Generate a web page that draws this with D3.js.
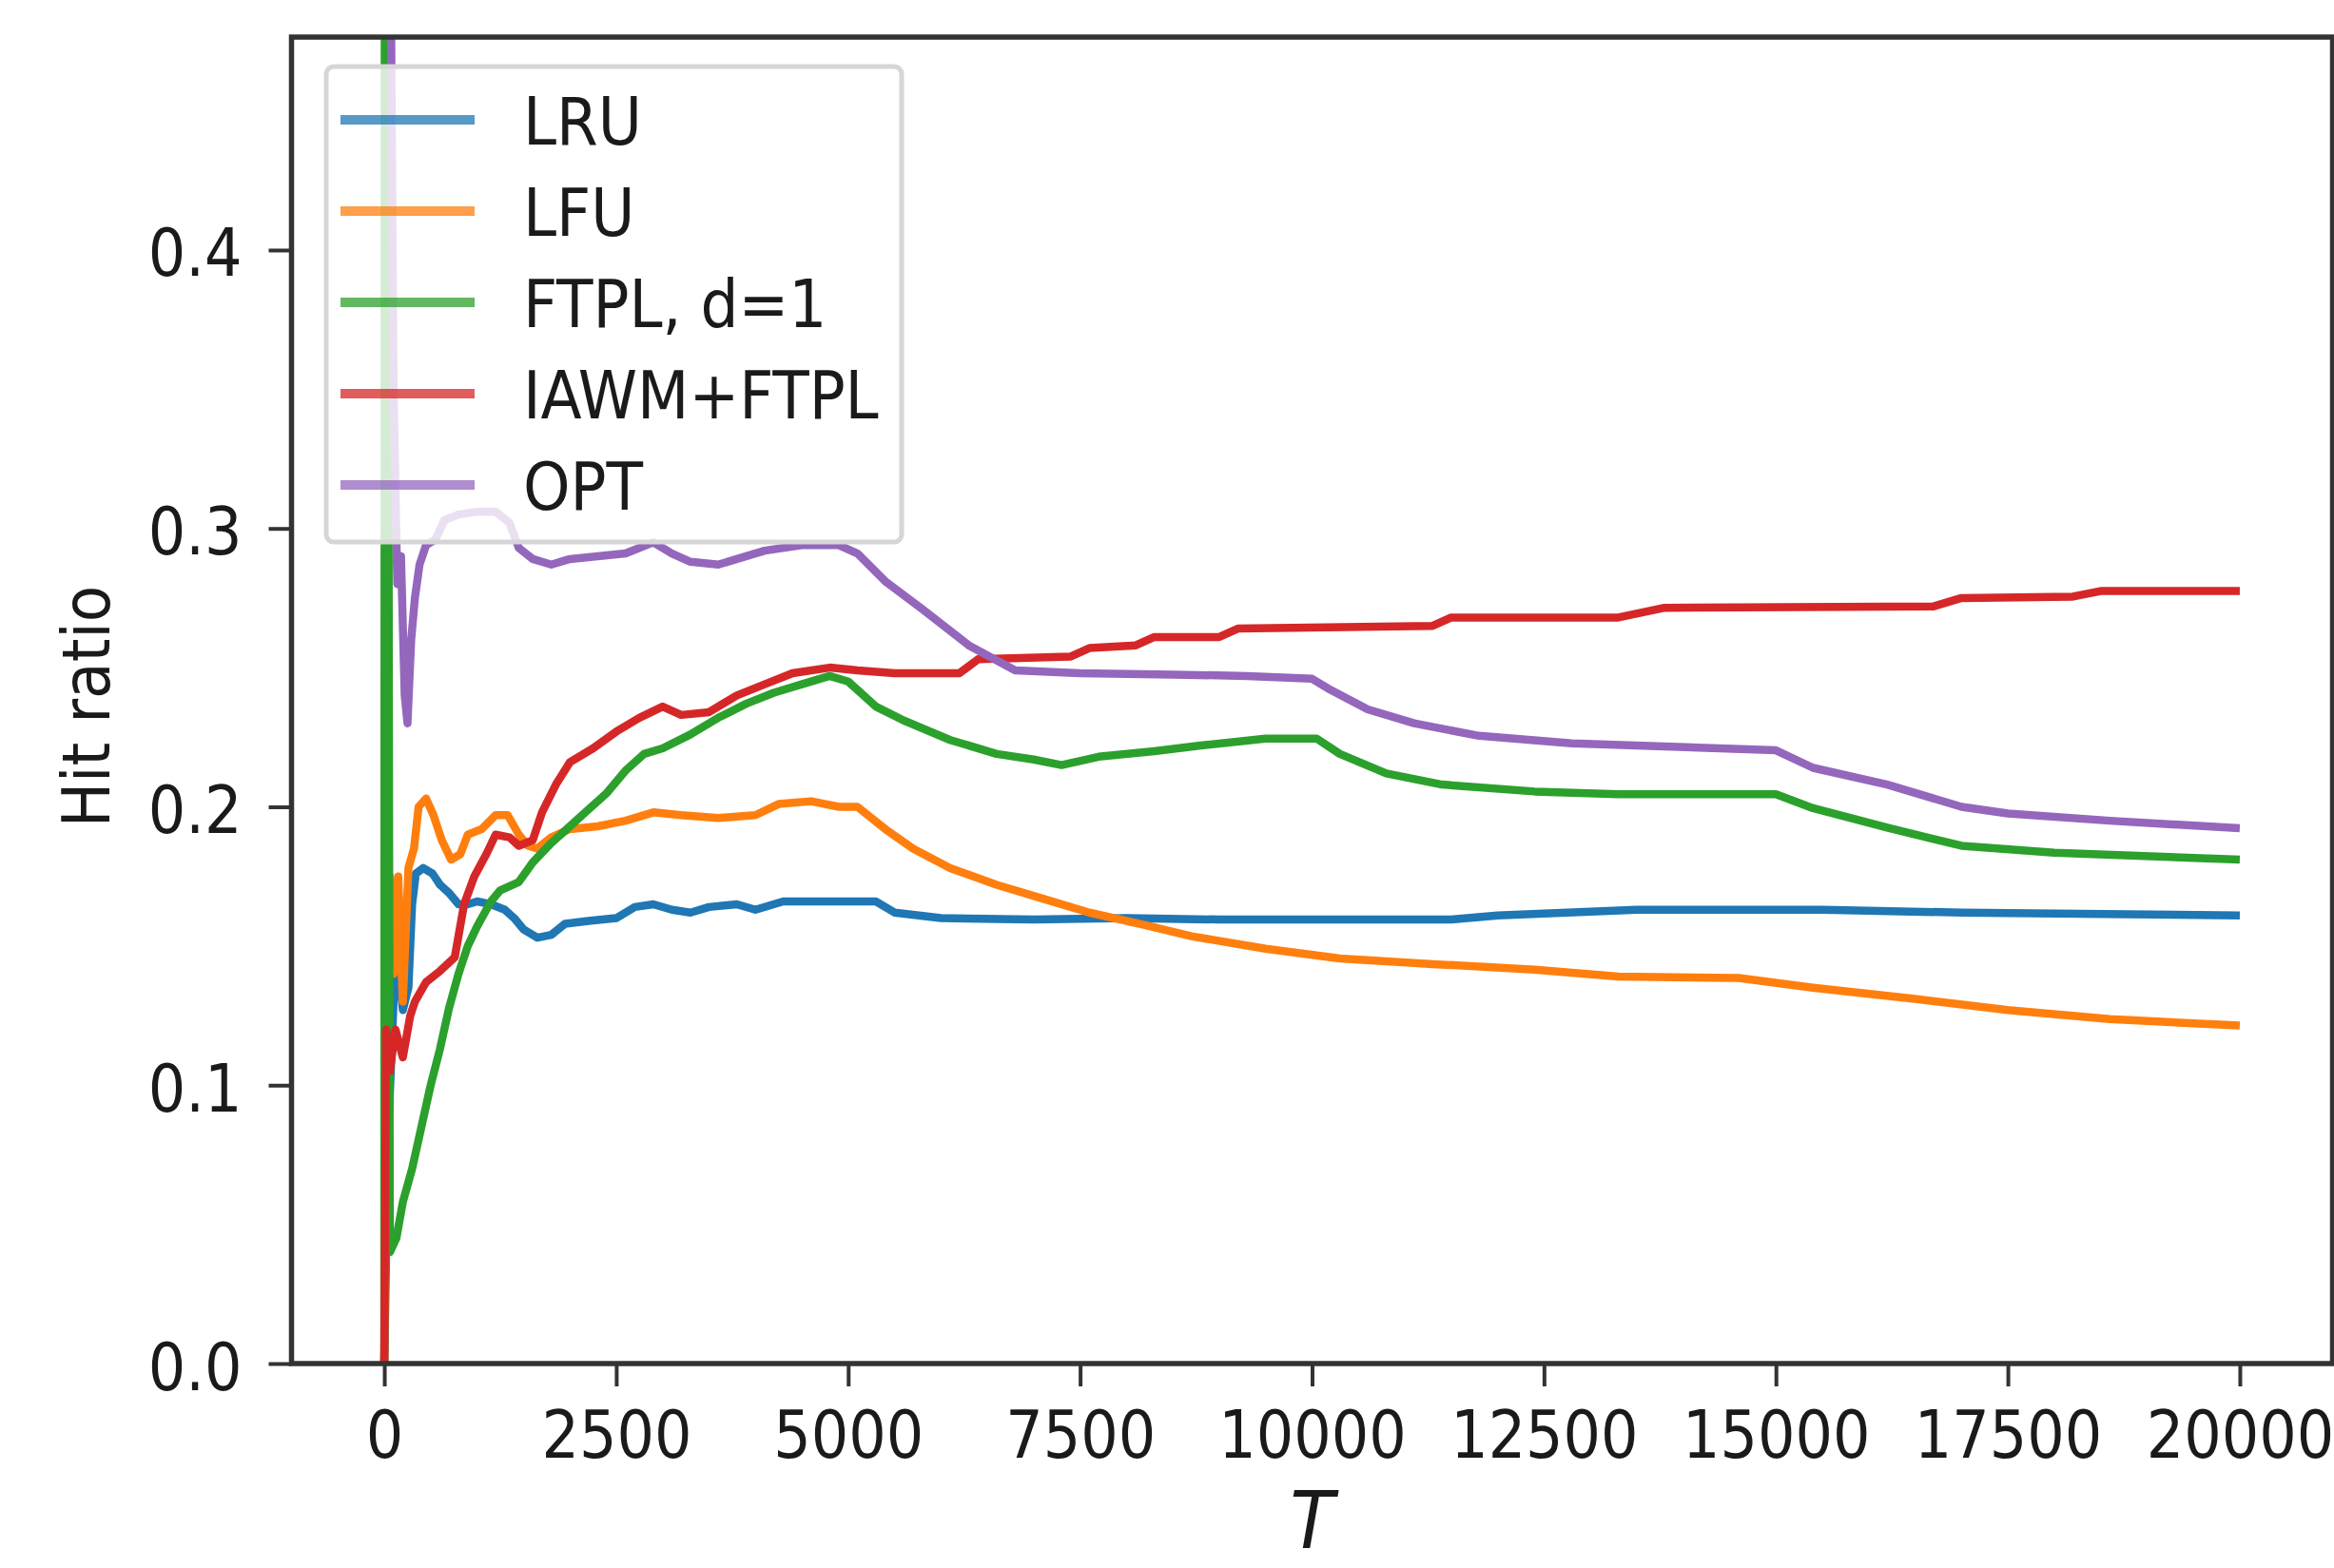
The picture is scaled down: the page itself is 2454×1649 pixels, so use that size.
<!DOCTYPE html>
<html>
<head>
<meta charset="utf-8">
<script src="https://cdn.jsdelivr.net/npm/d3@7"></script>
<style>
  html, body { margin: 0; padding: 0; background: #fff; }
  svg { display: block; }
  text { font-family: "DejaVu Sans Condensed", "DejaVu Sans", sans-serif; font-stretch: condensed; fill: #1a1a1a; }
</style>
</head>
<body>
<svg id="chart"></svg>
<script>
// tick labels
const xTicks = [0, 2500, 5000, 7500, 10000, 12500, 15000, 17500, 20000];
const yTicks = [0, 0.1, 0.2, 0.3, 0.4];

// series names and colours (matplotlib tab10)
const seriesNames = ["LRU", "LFU", "FTPL, d=1", "IAWM+FTPL", "OPT"];
const seriesColors = ["#1f77b4", "#ff7f0e", "#2ca02c", "#d62728", "#9467bd"];

// hit ratio vs T: [T, hit ratio]
const lru = [
  [0, 0], [40, 0.08], [100, 0.13], [150, 0.145], [200, 0.127], [260, 0.135], [300, 0.165],
  [340, 0.176], [420, 0.178], [520, 0.176], [600, 0.172], [700, 0.169], [800, 0.165],
  [900, 0.165], [1000, 0.166], [1150, 0.165], [1300, 0.163], [1400, 0.16], [1500, 0.156],
  [1650, 0.153], [1800, 0.154], [1950, 0.158], [2200, 0.159], [2500, 0.16], [2700, 0.164],
  [2900, 0.165], [3100, 0.163], [3300, 0.162], [3500, 0.164], [3800, 0.165], [4000, 0.163],
  [4300, 0.166], [4700, 0.166], [5000, 0.166], [5300, 0.166], [5500, 0.162], [6000, 0.16],
  [7000, 0.1595], [8000, 0.16], [9000, 0.1595], [10000, 0.1595], [11500, 0.1595],
  [12000, 0.161], [13500, 0.163], [15500, 0.163], [17000, 0.162], [20000, 0.161]
];
const lfu = [
  [0, 0], [30, 0.12], [60, 0.175], [100, 0.14], [150, 0.175], [200, 0.13], [260, 0.178],
  [320, 0.185], [370, 0.2], [450, 0.203], [530, 0.197], [620, 0.188], [720, 0.181],
  [820, 0.183], [900, 0.19], [1050, 0.192], [1200, 0.197], [1330, 0.197], [1450, 0.19],
  [1550, 0.186], [1650, 0.185], [1800, 0.189], [2000, 0.192], [2300, 0.193], [2600, 0.195],
  [2900, 0.198], [3200, 0.197], [3600, 0.196], [4000, 0.197], [4250, 0.201], [4600, 0.202],
  [4900, 0.2], [5100, 0.2], [5400, 0.192], [5700, 0.185], [6100, 0.178], [6600, 0.172],
  [7100, 0.167], [7600, 0.162], [8200, 0.1575], [8700, 0.1535], [9500, 0.149],
  [10300, 0.1455], [11300, 0.1435], [12400, 0.1415], [13300, 0.139], [14600, 0.1385],
  [15400, 0.135], [16500, 0.131], [17500, 0.127], [18600, 0.1237], [20000, 0.1214]
];
const ftpl = [
  [0, 0], [10, 1.0], [60, 0.04], [130, 0.045], [200, 0.058], [300, 0.07], [400, 0.085],
  [500, 0.1], [600, 0.113], [700, 0.128], [800, 0.14], [900, 0.15], [1000, 0.157],
  [1150, 0.166], [1250, 0.17], [1450, 0.173], [1600, 0.18], [1800, 0.187], [2000, 0.193],
  [2200, 0.199], [2400, 0.205], [2600, 0.213], [2800, 0.219], [3000, 0.221], [3300, 0.226],
  [3600, 0.232], [3900, 0.237], [4200, 0.241], [4500, 0.244], [4800, 0.247], [5000, 0.245],
  [5300, 0.236], [5600, 0.231], [6100, 0.224], [6600, 0.219], [7000, 0.217], [7300, 0.215],
  [7700, 0.218], [8300, 0.22], [8800, 0.222], [9500, 0.2245], [10050, 0.2245],
  [10300, 0.219], [10800, 0.212], [11400, 0.208], [12400, 0.2055], [13300, 0.2045],
  [15000, 0.2045], [15400, 0.1995], [16200, 0.1925], [17000, 0.186], [18000, 0.1835],
  [20000, 0.181]
];
const iawm = [
  [0, 0], [20, 0.12], [60, 0.105], [120, 0.12], [200, 0.11], [280, 0.125], [330, 0.13],
  [450, 0.137], [600, 0.141], [760, 0.146], [860, 0.165], [970, 0.175], [1100, 0.183],
  [1200, 0.19], [1350, 0.189], [1450, 0.186], [1600, 0.188], [1700, 0.198], [1850, 0.208],
  [2000, 0.216], [2250, 0.221], [2500, 0.227], [2750, 0.232], [3000, 0.236], [3200, 0.233],
  [3500, 0.234], [3800, 0.24], [4100, 0.244], [4400, 0.248], [4800, 0.25], [5100, 0.249],
  [5500, 0.248], [6200, 0.248], [6400, 0.253], [7400, 0.254], [7600, 0.257], [8100, 0.258],
  [8300, 0.261], [9000, 0.261], [9200, 0.264], [11300, 0.265], [11500, 0.268],
  [13300, 0.268], [13800, 0.2715], [16700, 0.272], [17000, 0.275], [18200, 0.2755],
  [18500, 0.2775], [20000, 0.2775]
];
const opt = [
  [0, 1.0], [50, 0.6], [100, 0.35], [140, 0.28], [180, 0.29], [220, 0.24], [250, 0.23],
  [290, 0.26], [330, 0.275], [380, 0.287], [450, 0.294], [550, 0.296], [650, 0.303],
  [800, 0.305], [1000, 0.306], [1200, 0.306], [1350, 0.302], [1450, 0.293], [1600, 0.289],
  [1800, 0.287], [2000, 0.289], [2300, 0.29], [2600, 0.291], [2900, 0.295], [3100, 0.291],
  [3300, 0.288], [3600, 0.287], [3800, 0.289], [4100, 0.292], [4500, 0.294], [4900, 0.294],
  [5100, 0.291], [5400, 0.281], [5800, 0.271], [6300, 0.258], [6800, 0.249], [7500, 0.248],
  [8500, 0.2475], [9300, 0.247], [10000, 0.246], [10200, 0.242], [10600, 0.235],
  [11100, 0.23], [11800, 0.2255], [12800, 0.2228], [15000, 0.2203], [15400, 0.214],
  [16200, 0.208], [17000, 0.2], [17500, 0.1976], [18600, 0.195], [20000, 0.1923]
];
const seriesValues = [lru, lfu, ftpl, iawm, opt];

// svg size
const width = 2454;
const height = 1649;
const svg = d3.select("#chart")
  .attr("width", width)
  .attr("height", height);

svg.append("rect").attr("width", width).attr("height", height).attr("fill", "#fff");

// scales (matplotlib style margins on x)
const xDomain = [-1000, 21000];
const yDomain = [0, 0.4765];
const x = d3.scaleLinear().domain(xDomain).range([306.5, 2452.5]);
const y = d3.scaleLinear().domain(yDomain).range([1434, 39]);

// clip the lines to the axes box
svg.append("defs").append("clipPath")
  .attr("id", "plot-area")
  .append("rect")
  .attr("x", x(xDomain[0]))
  .attr("y", y(yDomain[1]))
  .attr("width", x(xDomain[1]) - x(xDomain[0]))
  .attr("height", y(yDomain[0]) - y(yDomain[1]));

const line = d3.line()
  .x(d => x(d[0]))
  .y(d => y(d[1]));

svg.append("g")
  .attr("clip-path", "url(#plot-area)")
  .selectAll("path")
  .data(seriesValues)
  .join("path")
  .attr("d", line)
  .attr("fill", "none")
  .attr("stroke", (d, i) => seriesColors[i])
  .attr("stroke-width", 8.5)
  .attr("stroke-linejoin", "round");

// x axis
const xAxis = svg.append("g")
  .attr("transform", `translate(0,${y(0)})`)
  .call(d3.axisBottom(x).tickValues(xTicks).tickFormat(d3.format("d")).tickSize(24).tickSizeOuter(0));
xAxis.select(".domain").remove();
xAxis.selectAll(".tick line").attr("stroke", "#333").attr("stroke-width", 4);
xAxis.selectAll(".tick text")
  .attr("y", 99)
  .attr("dy", null)
  .attr("font-size", 69)
  .attr("fill", "#1a1a1a");

// y axis
const yAxis = svg.append("g")
  .attr("transform", `translate(${x(xDomain[0])},0)`)
  .call(d3.axisLeft(y).tickValues(yTicks).tickFormat(d3.format(".1f")).tickSize(24).tickSizeOuter(0));
yAxis.select(".domain").remove();
yAxis.selectAll(".tick line").attr("stroke", "#333").attr("stroke-width", 4);
yAxis.selectAll(".tick text")
  .attr("x", -52)
  .attr("dy", 27)
  .attr("font-size", 69)
  .attr("fill", "#1a1a1a");

// spines
svg.append("rect")
  .attr("x", x(xDomain[0]))
  .attr("y", y(yDomain[1]))
  .attr("width", x(xDomain[1]) - x(xDomain[0]))
  .attr("height", y(yDomain[0]) - y(yDomain[1]))
  .attr("fill", "none")
  .attr("stroke", "#333")
  .attr("stroke-width", 5.5);

// axis labels
svg.append("text")
  .attr("transform", "translate(115,743) rotate(-90)")
  .attr("text-anchor", "middle")
  .attr("font-size", 70)
  .text("Hit ratio");

svg.append("text")
  .attr("x", (x(xDomain[0]) + x(xDomain[1])) / 2)
  .attr("y", 1628)
  .attr("text-anchor", "middle")
  .attr("font-size", 84)
  .attr("font-style", "italic")
  .text("T");

// legend
const legend = svg.append("g").attr("transform", "translate(343,70)");
legend.append("rect")
  .attr("width", 605)
  .attr("height", 500)
  .attr("rx", 8)
  .attr("fill", "#fff")
  .attr("fill-opacity", 0.8)
  .attr("stroke", "#d6d6d6")
  .attr("stroke-width", 5);

const rows = legend.selectAll("g.row")
  .data(seriesNames)
  .join("g")
  .attr("class", "row")
  .attr("transform", (d, i) => `translate(0,${56 + i * 96})`);

rows.append("line")
  .attr("x1", 15)
  .attr("x2", 156)
  .attr("stroke", (d, i) => seriesColors[i])
  .attr("stroke-opacity", 0.75)
  .attr("stroke-width", 10);

rows.append("text")
  .attr("x", 207)
  .attr("y", 26)
  .attr("font-size", 70)
  .text(d => d);
</script>
</body>
</html>
